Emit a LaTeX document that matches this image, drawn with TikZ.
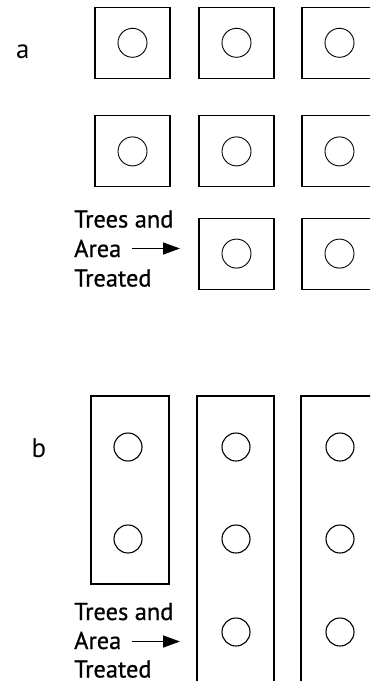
\documentclass[tikz,border=0pt]{standalone}
\usepackage{fontspec}
\setmainfont{PT Sans}
\newfontfamily\labfont{PT Sans}[FakeBold=0.7]
\usetikzlibrary{arrows.meta}
\begin{document}
\begin{tikzpicture}[x=1bp,y=-1bp,
  plotbox/.style={draw,line width=1.1bp,inner sep=0,minimum width=75bp,minimum height=71bp},
  tallbox/.style={draw,line width=1.1bp,inner sep=0,minimum width=77bp},
  tree/.style={draw,circle,line width=0.9bp,inner sep=0,minimum size=29bp},
  btree/.style={draw,circle,line width=1.1bp,inner sep=0,minimum size=28bp},
  lbl/.style={font=\labfont\fontsize{24.5}{28}\selectfont,anchor=base west,inner sep=0,text depth=0pt},
  panel/.style={font=\fontsize{27}{30}\selectfont,anchor=base west,inner sep=0},
  pointer/.style={-{Triangle[length=17bp,width=12bp]},line width=1.7bp}
]
\clip (0,0) rectangle (370,681);
% ---------- panel a ----------
\node[panel] (la) at (16,58.5) {a};
\foreach \c/\x in {1/132.5,2/236.5,3/339.5}{
  \foreach \r/\y in {1/42.8,2/151.4}{
    \node[plotbox] (a\r\c) at (\x,\y) {};
    \node[tree] (ta\r\c) at (a\r\c.center) {};
  }
}
\foreach \c/\x in {2/236.5,3/339.5}{
  \node[plotbox] (a3\c) at (\x,253.6) {};
  \node[tree] (ta3\c) at (a3\c.center) {};
}
\node[lbl] (ta1) at (74,227.5) {Trees and};
\node[lbl] (ta2) at (74,257) {Area};
\node[lbl] (ta3) at (74,286.5) {Treated};
\coordinate (afrom) at (132,248.5);
\coordinate (ato) at (180,248.5);
\draw[pointer] (afrom) -- (ato);
% ---------- panel b ----------
\node[panel] (lb) at (31.5,457) {b};
\node[tallbox,minimum width=78bp,minimum height=188bp] (b1) at (130,490) {};
\node[tallbox,minimum height=304bp] (b2) at (235.5,548) {};
\node[tallbox,minimum height=304bp] (b3) at (339.5,548) {};
\node[btree] (tb11) at (128,447) {};
\node[btree] (tb12) at (128,539) {};
\foreach \c/\x in {2/236,3/340}{
  \foreach \r/\y in {1/447,2/539,3/632}{
    \node[btree] (tb\c\r) at (\x,\y) {};
  }
}
\node[lbl] (tb1) at (74,620) {Trees and};
\node[lbl] (tb2) at (74,649) {Area};
\node[lbl] (tb3) at (74,677.5) {Treated};
\coordinate (bfrom) at (132,641.5);
\coordinate (bto) at (180,641.5);
\draw[pointer] (bfrom) -- (bto);
\end{tikzpicture}
\end{document}
